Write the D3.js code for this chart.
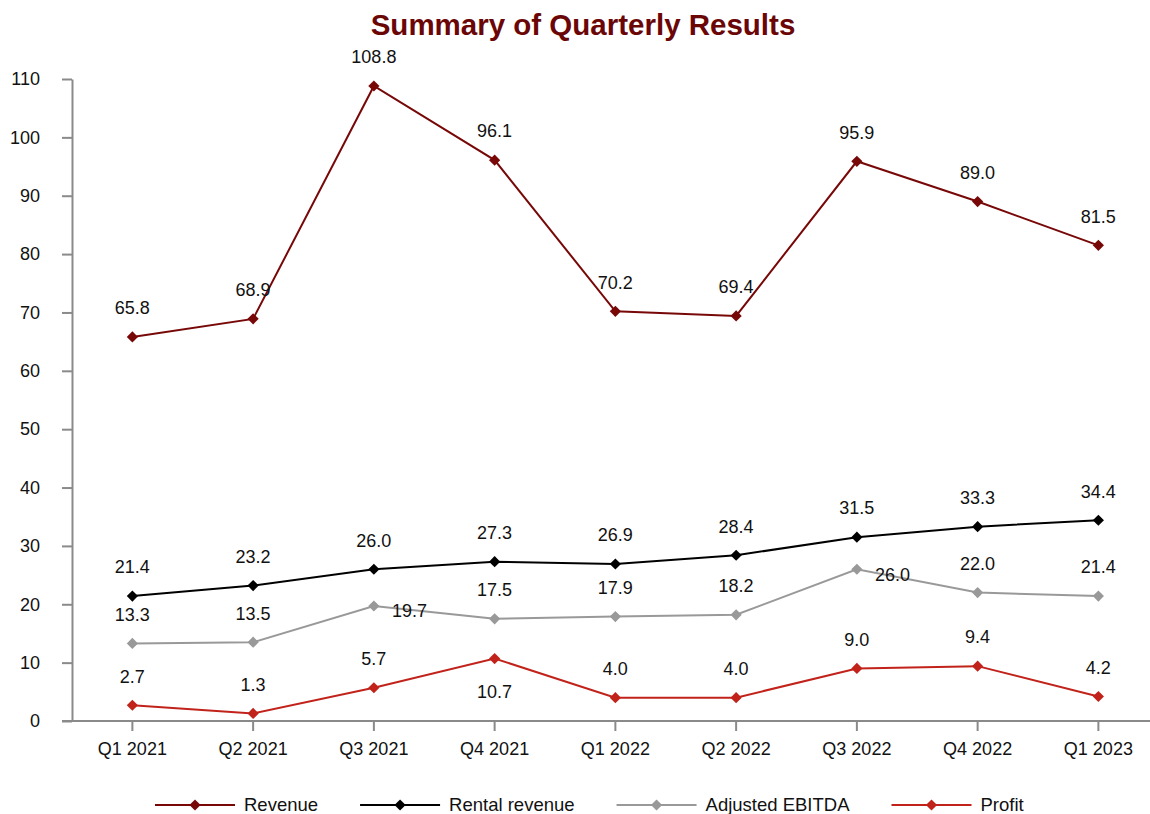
<!DOCTYPE html>
<html>
<head>
<meta charset="utf-8">
<script src="https://d3js.org/d3.v7.min.js"></script>
<style>
  body { margin: 0; background: #fff; }
  text { font-family: "Liberation Sans", Arial, sans-serif; }
</style>
</head>
<body>
<svg></svg>
<script>
// quarters and series
var quarters = ['Q1 2021', 'Q2 2021', 'Q3 2021', 'Q4 2021', 'Q1 2022', 'Q2 2022', 'Q3 2022', 'Q4 2022', 'Q1 2023'];
var revenue = [65.8, 68.9, 108.8, 96.1, 70.2, 69.4, 95.9, 89.0, 81.5];
var rental = [21.4, 23.2, 26.0, 27.3, 26.9, 28.4, 31.5, 33.3, 34.4];
var ebitda = [13.3, 13.5, 19.7, 17.5, 17.9, 18.2, 26.0, 22.0, 21.4];
var profit = [2.7, 1.3, 5.7, 10.7, 4.0, 4.0, 9.0, 9.4, 4.2];
var yTicks = [0, 10, 20, 30, 40, 50, 60, 70, 80, 90, 100, 110];

// where each data label sits relative to its point
var labelPos = {
  'Revenue': ['above', 'above', 'above', 'above', 'above', 'above', 'above', 'above', 'above'],
  'Rental revenue': ['above', 'above', 'above', 'above', 'above', 'above', 'above', 'above', 'above'],
  'Adjusted EBITDA': ['above', 'above', 'right', 'above', 'above', 'above', 'right', 'above', 'above'],
  'Profit': ['above', 'above', 'above', 'below', 'above', 'above', 'above', 'above', 'above']
};

var series = [
  { name: 'Revenue', values: revenue, color: '#780808' },
  { name: 'Rental revenue', values: rental, color: '#000000' },
  { name: 'Adjusted EBITDA', values: ebitda, color: '#999999' },
  { name: 'Profit', values: profit, color: '#c1231b' }
];

var W = 1150, H = 814;
var plotLeft = 72, plotTop = 79, plotBottom = 721;
var fs = 18;

var svg = d3.select('svg').attr('width', W).attr('height', H);

var x = d3.scaleBand()
    .domain(quarters)
    .range([plotLeft, plotLeft + 120.75 * quarters.length]);

var y = d3.scaleLinear()
    .domain([0, 110])
    .range([plotBottom, plotTop]);

function cx(i) { return x(quarters[i]) + x.bandwidth() / 2; }

// title
svg.append('text')
    .attr('x', 583)
    .attr('y', 35)
    .attr('text-anchor', 'middle')
    .attr('font-size', 29.5)
    .attr('font-weight', 'bold')
    .attr('fill', '#6b0606')
    .text('Summary of Quarterly Results');

// y axis
var yAxis = svg.append('g')
    .attr('transform', 'translate(' + plotLeft + ',0)')
    .call(d3.axisLeft(y).tickValues(yTicks).tickSizeInner(10).tickSizeOuter(0).tickPadding(22));

// x axis
var xAxis = svg.append('g')
    .attr('transform', 'translate(0,' + plotBottom + ')')
    .call(d3.axisBottom(x).tickSizeInner(10).tickSizeOuter(0).tickPadding(11));

[yAxis, xAxis].forEach(function(g) {
  g.select('.domain').attr('stroke', '#8a8a8a').attr('stroke-width', 2);
  g.selectAll('.tick line').attr('stroke', '#8a8a8a').attr('stroke-width', 2);
  g.selectAll('.tick text')
      .attr('font-family', '"Liberation Sans", Arial, sans-serif')
      .attr('font-size', fs)
      .attr('fill', '#111');
});
// x axis line starts under the y ticks
xAxis.select('.domain').attr('d', 'M' + (plotLeft - 10) + ',0H' + W);

var diamond = d3.symbol().type(d3.symbolDiamond2).size(80);

var line = d3.line()
    .x(function(d, i) { return cx(i); })
    .y(function(d) { return y(d); });

series.forEach(function(s) {
  var g = svg.append('g').attr('class', 'series');

  g.append('path')
      .datum(s.values)
      .attr('fill', 'none')
      .attr('stroke', s.color)
      .attr('stroke-width', 2)
      .attr('d', line);

  g.selectAll('.pt')
      .data(s.values)
      .enter().append('path')
      .attr('class', 'pt')
      .attr('fill', s.color)
      .attr('transform', function(d, i) {
        return 'translate(' + cx(i) + ',' + y(d) + ')';
      })
      .attr('d', diamond);
});

// data labels on top of the lines
series.forEach(function(s) {
  var pos = labelPos[s.name];
  svg.append('g').selectAll('text')
      .data(s.values)
      .enter().append('text')
      .attr('font-size', fs)
      .attr('fill', '#111')
      .attr('text-anchor', function(d, i) { return pos[i] == 'right' ? 'start' : 'middle'; })
      .attr('x', function(d, i) {
        return pos[i] == 'right' ? cx(i) + 18 : cx(i);
      })
      .attr('y', function(d, i) {
        if (pos[i] == 'below') return y(d) + 33;
        if (pos[i] == 'right') return y(d) + 5;
        return y(d) - 29;
      })
      .attr('dy', '.35em')
      .text(function(d) { return d.toFixed(1); });
});

// legend
var legend = svg.append('g').attr('transform', 'translate(155,805)');
var lx = 0;
series.forEach(function(s) {
  var item = legend.append('g').attr('transform', 'translate(' + lx + ',0)');
  item.append('line')
      .attr('x1', 0).attr('x2', 80)
      .attr('stroke', s.color)
      .attr('stroke-width', 2);
  item.append('path')
      .attr('transform', 'translate(40,0)')
      .attr('fill', s.color)
      .attr('d', diamond);
  var t = item.append('text')
      .attr('x', 89)
      .attr('dy', '.35em')
      .attr('font-size', 18.5)
      .attr('fill', '#111')
      .text(s.name);
  lx += 89 + t.node().getComputedTextLength() + 42;
});
</script>
</body>
</html>
